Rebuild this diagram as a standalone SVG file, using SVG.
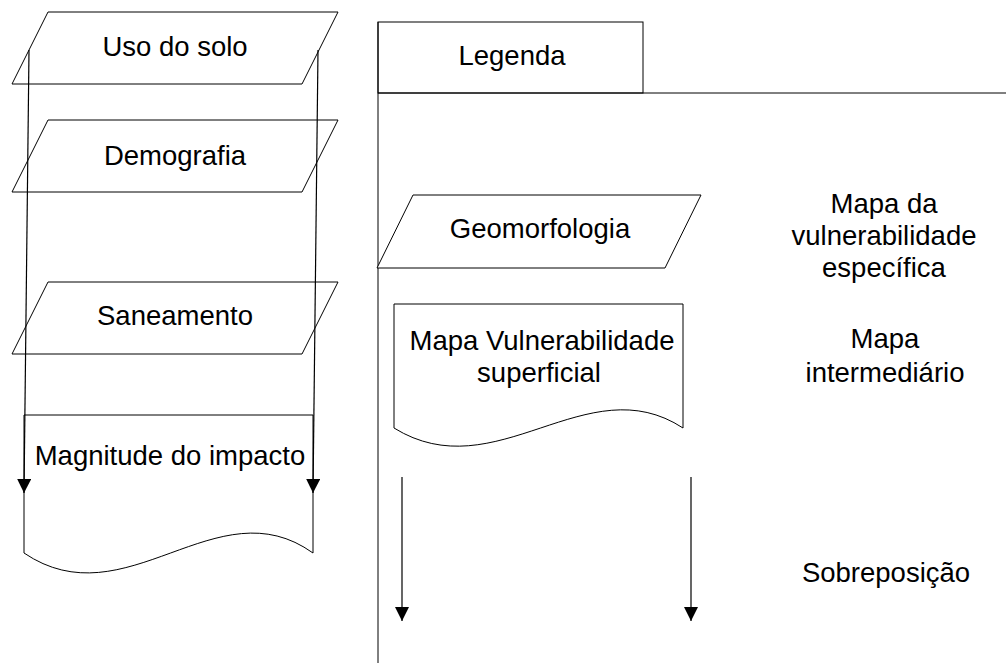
<svg xmlns="http://www.w3.org/2000/svg" width="1006" height="663" viewBox="0 0 1006 663">
<defs>
<style>
.shape{fill:#fff;stroke:#000;stroke-width:1}
.line{fill:none;stroke:#000;stroke-width:1}
.conn{fill:none;stroke:#000;stroke-width:1.2}
text{font-family:"Liberation Sans",Arial,sans-serif;font-size:27.5px;fill:#000;text-anchor:middle}
</style>
<marker id="arrow" markerUnits="userSpaceOnUse" markerWidth="14" markerHeight="14" viewBox="0 0 14 14" refX="14" refY="7" orient="auto">
<path d="M0,0 L14,7 L0,14 Z" fill="#000"/>
</marker>
</defs>
<rect width="1006" height="663" fill="#fff"/>
<g id="legend-frame">
<rect class="shape" x="378" y="22" width="265" height="71"/>
<line class="line" x1="378" y1="93" x2="1006" y2="93"/>
<line class="line" x1="378" y1="22" x2="378" y2="663"/>
<text x="512" y="65">Legenda</text>
</g>
<g id="uso-do-solo">
<polygon class="shape" points="48,12 338,12 302,84 12,84"/>
<text x="175" y="56">Uso do solo</text>
</g>
<g id="demografia">
<polygon class="shape" points="48,120 338,120 302,192 12,192"/>
<text x="175" y="165">Demografia</text>
</g>
<g id="saneamento">
<polygon class="shape" points="48,282 338,282 302,354 12,354"/>
<text x="175" y="325">Saneamento</text>
</g>
<g id="magnitude">
<path class="shape" d="M24,415 L313,415 L313,553 C216.7,484 126,622 24,553 Z"/>
<text x="170" y="465">Magnitude do impacto</text>
</g>
<g id="geomorfologia">
<polygon class="shape" points="413,195 701,195 665,268 377,268"/>
<text x="540" y="238">Geomorfologia</text>
</g>
<g id="mapa-vulnerabilidade">
<path class="shape" d="M394,304 L683,304 L683,428 C586.7,365 496,491 394,428 Z"/>
<text x="542" y="350">Mapa Vulnerabilidade</text>
<text x="539" y="382">superficial</text>
</g>
<g id="legend-labels">
<text x="884" y="213">Mapa da</text>
<text x="884" y="245">vulnerabilidade</text>
<text x="884" y="277">específica</text>
<text x="885" y="348">Mapa</text>
<text x="885" y="382">intermediário</text>
<text x="886" y="582">Sobreposição</text>
</g>
<g id="connectors">
<line class="conn" x1="29" y1="50" x2="24" y2="493" marker-end="url(#arrow)"/>
<line class="conn" x1="318" y1="50" x2="313" y2="493" marker-end="url(#arrow)"/>
<line class="conn" x1="402" y1="477" x2="402" y2="621" marker-end="url(#arrow)"/>
<line class="conn" x1="691" y1="477" x2="691" y2="621" marker-end="url(#arrow)"/>
</g>
</svg>
